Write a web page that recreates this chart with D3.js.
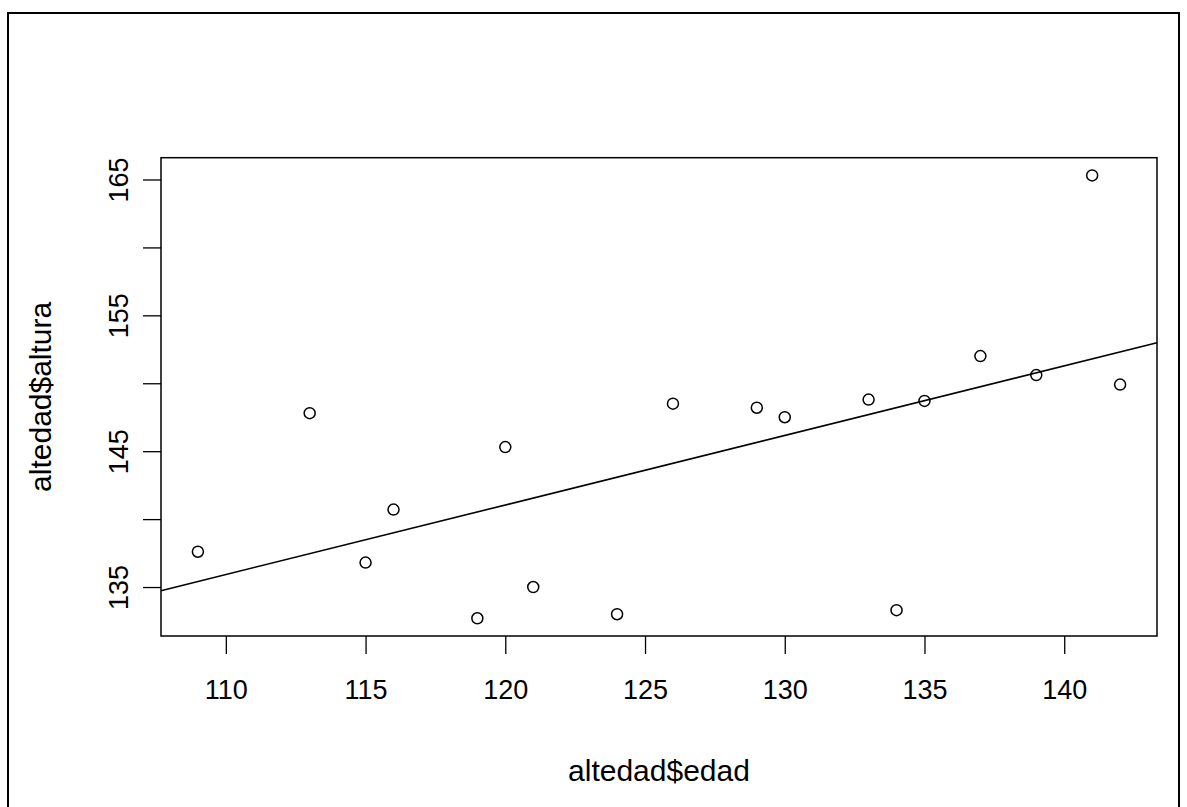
<!DOCTYPE html>
<html>
<head>
<meta charset="utf-8">
<script src="https://cdn.jsdelivr.net/npm/d3@7"></script>
<style>
  html, body { margin: 0; padding: 0; background: #fff; }
  svg text { font-family: "Liberation Sans", Arial, Helvetica, sans-serif; fill: #000; }
</style>
</head>
<body>
<svg id="chart" width="1187" height="807"></svg>
<script>
// ---- data ----
const edad   = [109, 113, 115, 116, 119, 120, 121, 124, 126, 129, 130, 133, 134, 135, 137, 139, 141, 142];
const altura = [137.6, 147.8, 136.8, 140.7, 132.7, 145.3, 135.0, 133.0, 148.5, 148.2, 147.5, 148.8, 133.3, 148.7, 152.0, 150.6, 165.3, 149.9];
const xTicks = [110, 115, 120, 125, 130, 135, 140];
const yTicks = [135, 140, 145, 150, 155, 160, 165];
const yTickLabels = ["135", "", "145", "", "155", "", "165"];
const xTitle = "altedad$edad";
const yTitle = "altedad$altura";

const svg = d3.select("#chart");
const box = { left: 161, top: 157.7, right: 1157, bottom: 636 };
const fs = 27, fsTitle = 30;

// outer frame
svg.append("rect").attr("x", 8).attr("y", 13).attr("width", 1171).attr("height", 810)
  .attr("fill", "none").attr("stroke", "#000").attr("stroke-width", 2);

// R-style 4% extended ranges
function ext(arr) {
  const [a, b] = d3.extent(arr); const d = (b - a) * 0.04; return [a - d, b + d];
}
const x = d3.scaleLinear().domain(ext(edad)).range([box.left, box.right]);
const y = d3.scaleLinear().domain(ext(altura)).range([box.bottom, box.top]);

// plot box
svg.append("rect").attr("x", box.left).attr("y", box.top)
  .attr("width", box.right - box.left).attr("height", box.bottom - box.top)
  .attr("fill", "none").attr("stroke", "#000").attr("stroke-width", 1.5);

// x axis
const xAxis = d3.axisBottom(x).tickValues(xTicks).tickSize(18).tickPadding(0).tickFormat(d3.format("d"));
const gx = svg.append("g").attr("transform", `translate(0,${box.bottom})`).call(xAxis);
gx.select(".domain").remove();
gx.selectAll(".tick line").attr("stroke", "#000").attr("stroke-width", 1.3);
gx.selectAll(".tick text").attr("y", 0).attr("dy", 0)
  .attr("transform", "translate(0,63)")
  .style("font-size", fs + "px").attr("font-family", null);

// y axis
const yAxis = d3.axisLeft(y).tickValues(yTicks).tickSize(18).tickPadding(0)
  .tickFormat((d, i) => yTickLabels[i]);
const gy = svg.append("g").attr("transform", `translate(${box.left},0)`).call(yAxis);
gy.select(".domain").remove();
gy.selectAll(".tick line").attr("stroke", "#000").attr("stroke-width", 1.3);
gy.selectAll(".tick text").attr("x", 0).attr("dy", 0)
  .attr("text-anchor", "middle")
  .attr("transform", "translate(-33,0) rotate(-90)")
  .style("font-size", fs + "px").attr("font-family", null);

// regression line (least squares on the data, like abline(lm(...)))
const mx = d3.mean(edad), my = d3.mean(altura);
const sxy = d3.sum(edad, (v, i) => (v - mx) * (altura[i] - my));
const sxx = d3.sum(edad, v => (v - mx) * (v - mx));
const slope = sxy / sxx, icpt = my - slope * mx;
const [x0, x1] = x.domain();
svg.append("line")
  .attr("x1", x(x0)).attr("y1", y(icpt + slope * x0))
  .attr("x2", x(x1)).attr("y2", y(icpt + slope * x1))
  .attr("stroke", "#000").attr("stroke-width", 1.6);

// points
svg.append("g").selectAll("circle").data(edad).join("circle")
  .attr("cx", d => x(d)).attr("cy", (d, i) => y(altura[i])).attr("r", 5.5)
  .attr("fill", "none").attr("stroke", "#000").attr("stroke-width", 1.5);

// axis titles
svg.append("text").attr("x", (box.left + box.right) / 2).attr("y", 781)
  .attr("text-anchor", "middle").style("font-size", fsTitle + "px").text(xTitle);
svg.append("text").attr("transform", `translate(51,${(box.top + box.bottom) / 2}) rotate(-90)`)
  .attr("text-anchor", "middle").style("font-size", fsTitle + "px").text(yTitle);
</script>
</body>
</html>
